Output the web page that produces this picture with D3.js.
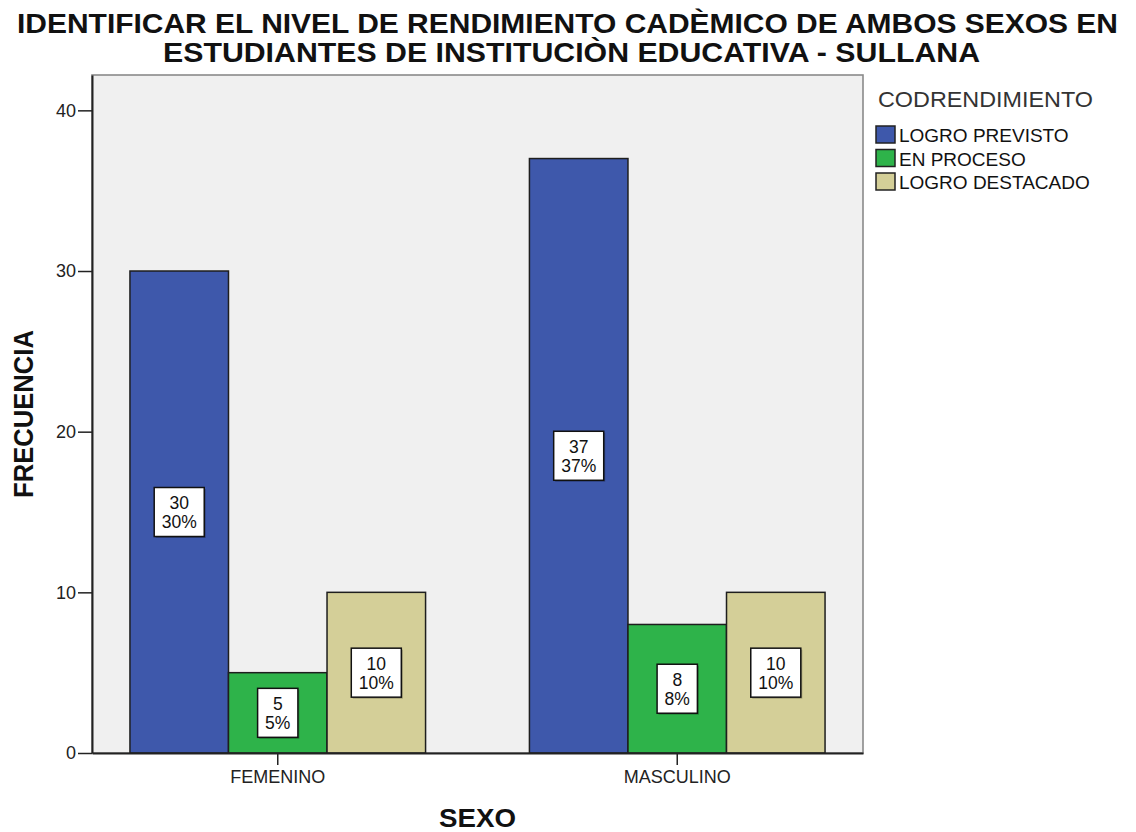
<!DOCTYPE html>
<html>
<head>
<meta charset="utf-8">
<script src="https://cdn.jsdelivr.net/npm/d3@7"></script>
<style>
  body { margin: 0; background: #fff; }
  svg { font-family: "Liberation Sans", Arial, sans-serif; }
</style>
</head>
<body>
<div id="chart"></div>
<script>
const TITLE_LINES = [
  'IDENTIFICAR EL NIVEL DE RENDIMIENTO CADÈMICO DE AMBOS SEXOS EN',
  'ESTUDIANTES DE INSTITUCIÒN EDUCATIVA - SULLANA'
];
const SEXOS = ['FEMENINO', 'MASCULINO'];
const NIVELES = ['LOGRO PREVISTO', 'EN PROCESO', 'LOGRO DESTACADO'];
const COLORS = ['#3e58ab', '#2eb34a', '#d4cf98'];
// frecuencias por sexo, en el orden de NIVELES
const FEMENINO = [30, 5, 10];
const MASCULINO = [37, 8, 10];
const Y_TICKS = [0, 10, 20, 30, 40];
const Y_MAX = 42.2;

const WIDTH = 1136;
const HEIGHT = 832;
const PLOT = { left: 92, right: 863, top: 75, bottom: 753 };

const values = [FEMENINO, MASCULINO];
const total = d3.sum(values.flat());

const svg = d3
  .select('#chart')
  .append('svg')
  .attr('width', WIDTH)
  .attr('height', HEIGHT);

// title
svg
  .selectAll('text.title')
  .data(TITLE_LINES)
  .join('text')
  .attr('class', 'title')
  .attr('x', (d, i) => (i === 0 ? 17 : 163))
  .attr('y', (d, i) => 33 + i * 29)
  .attr('textLength', (d, i) => (i === 0 ? 1101 : 817))
  .attr('lengthAdjust', 'spacingAndGlyphs')
  .style('font-size', '28px')
  .style('font-weight', 'bold')
  .style('fill', '#111')
  .text((d) => d);

// scales
const x0 = d3
  .scaleBand()
  .domain(SEXOS)
  .range([PLOT.left, PLOT.right])
  .paddingInner(0.26)
  .paddingOuter(0.095);
const x1 = d3
  .scaleBand()
  .domain(NIVELES)
  .range([0, x0.bandwidth()]);
const y = d3.scaleLinear().domain([0, Y_MAX]).range([PLOT.bottom, PLOT.top]);

// plot background + frame
svg
  .append('rect')
  .attr('x', PLOT.left)
  .attr('y', PLOT.top)
  .attr('width', PLOT.right - PLOT.left)
  .attr('height', PLOT.bottom - PLOT.top)
  .attr('fill', '#f0f0f0')
  .attr('stroke', '#8a8a8a')
  .attr('stroke-width', 1.6);

// bars
const groups = svg
  .selectAll('g.group')
  .data(SEXOS)
  .join('g')
  .attr('class', 'group')
  .attr('transform', (d) => 'translate(' + x0(d) + ',0)');

groups
  .selectAll('rect.bar')
  .data((d, i) => values[i].map((v, j) => ({ nivel: NIVELES[j], value: v, c: COLORS[j] })))
  .join('rect')
  .attr('class', 'bar')
  .attr('x', (d) => x1(d.nivel))
  .attr('y', (d) => y(d.value))
  .attr('width', x1.bandwidth())
  .attr('height', (d) => y(0) - y(d.value))
  .attr('fill', (d) => d.c)
  .attr('stroke', '#1e1e1e')
  .attr('stroke-width', 1.5);

// value labels in boxes
const LINE_H = 19;
const labels = groups
  .selectAll('g.lbl')
  .data((d, i) => values[i].map((v, j) => ({ nivel: NIVELES[j], value: v })))
  .join('g')
  .attr('class', 'lbl')
  .attr('transform', (d) =>
    'translate(' + (x1(d.nivel) + x1.bandwidth() / 2) + ',' + y(d.value / 2) + ')'
  );

labels.each(function (d) {
  const g = d3.select(this);
  const lines = [String(d.value), Math.round((d.value / total) * 100) + '%'];
  const shadow = g.append('rect');
  const box = g.append('rect');
  const txt = g
    .selectAll('text')
    .data(lines)
    .join('text')
    .attr('text-anchor', 'middle')
    .attr('y', (t, i) => (i - 0.5) * LINE_H + 6.5)
    .style('font-size', '17.5px')
    .style('fill', '#111')
    .text((t) => t);
  const w = d3.max(txt.nodes(), (n) => n.getComputedTextLength()) + 15;
  const h = 49;
  shadow
    .attr('x', -w / 2 + 1.5)
    .attr('y', -h / 2 + 1.5)
    .attr('width', w)
    .attr('height', h)
    .attr('fill', 'rgba(0,0,0,0.25)');
  box
    .attr('x', -w / 2)
    .attr('y', -h / 2)
    .attr('width', w)
    .attr('height', h)
    .attr('fill', '#fff')
    .attr('stroke', '#111')
    .attr('stroke-width', 1.5);
});

// y axis
const yAxis = svg
  .append('g')
  .attr('class', 'y axis')
  .attr('transform', 'translate(' + PLOT.left + ',0)')
  .call(d3.axisLeft(y).tickValues(Y_TICKS).tickSize(14).tickSizeOuter(0).tickPadding(2));
yAxis.select('.domain').attr('stroke', '#222').attr('stroke-width', 2);
yAxis.selectAll('.tick line').attr('stroke', '#222').attr('stroke-width', 1.5);
yAxis
  .selectAll('.tick text')
  .style('font-size', '18px')
  .style('font-family', '"Liberation Sans", Arial, sans-serif')
  .attr('fill', '#222');

// x axis
const xAxis = svg
  .append('g')
  .attr('class', 'x axis')
  .attr('transform', 'translate(0,' + PLOT.bottom + ')')
  .call(d3.axisBottom(x0).tickSize(12).tickSizeOuter(0).tickPadding(5));
xAxis.select('.domain').attr('stroke', '#222').attr('stroke-width', 2);
xAxis.selectAll('.tick line').attr('stroke', '#222').attr('stroke-width', 1.5);
xAxis
  .selectAll('.tick text')
  .style('font-size', '18px')
  .style('font-family', '"Liberation Sans", Arial, sans-serif')
  .attr('fill', '#222');

// axis titles
svg
  .append('text')
  .attr('transform', 'translate(33,414) rotate(-90)')
  .attr('text-anchor', 'middle')
  .attr('textLength', 168)
  .attr('lengthAdjust', 'spacingAndGlyphs')
  .style('font-size', '28px')
  .style('font-weight', 'bold')
  .style('fill', '#111')
  .text('FRECUENCIA');

svg
  .append('text')
  .attr('x', (PLOT.left + PLOT.right) / 2)
  .attr('y', 827)
  .attr('text-anchor', 'middle')
  .attr('textLength', 77)
  .attr('lengthAdjust', 'spacingAndGlyphs')
  .style('font-size', '26px')
  .style('font-weight', 'bold')
  .style('fill', '#111')
  .text('SEXO');

// legend
const legend = svg.append('g').attr('transform', 'translate(876,0)');
legend
  .append('text')
  .attr('x', 2)
  .attr('y', 107)
  .attr('textLength', 215)
  .attr('lengthAdjust', 'spacingAndGlyphs')
  .style('font-size', '22px')
  .style('fill', '#333')
  .text('CODRENDIMIENTO');

const items = legend
  .selectAll('g.item')
  .data(NIVELES)
  .join('g')
  .attr('class', 'item')
  .attr('transform', (d, i) => 'translate(0,' + (126 + i * 23.5) + ')');
items
  .append('rect')
  .attr('width', 19)
  .attr('height', 17)
  .attr('fill', (d, i) => COLORS[i])
  .attr('stroke', '#222')
  .attr('stroke-width', 1.5);
items
  .append('text')
  .attr('x', 23)
  .attr('y', 16)
  .style('font-size', '19px')
  .style('fill', '#111')
  .text((d) => d);
</script>
</body>
</html>
